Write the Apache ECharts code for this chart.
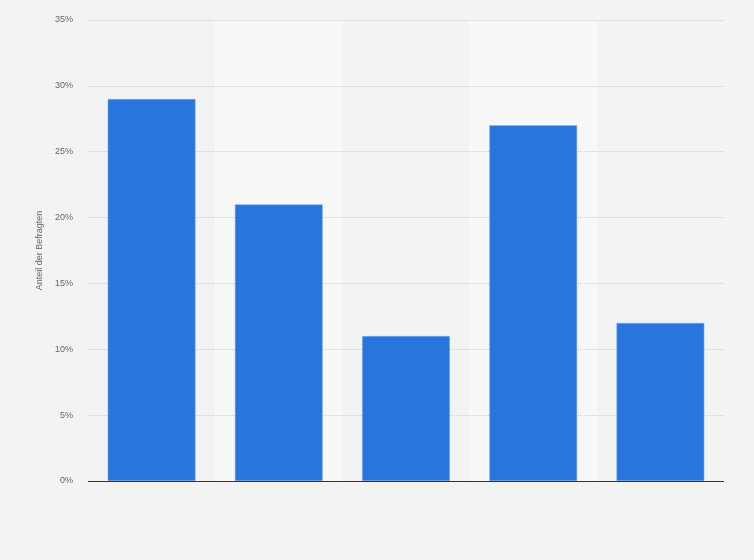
<!DOCTYPE html>
<html><head><meta charset="utf-8">
<script src="https://cdn.jsdelivr.net/npm/echarts@6/dist/echarts.min.js"></script>
<style>html,body{margin:0;padding:0;background:#f3f3f3}#c{width:754px;height:560px}</style>
</head><body><div id="c"></div>
<script>
const categories = ['A', 'B', 'C', 'D', 'E'];
const values = [29, 21, 11, 27, 12];
const yTicks = { min: 0, max: 35, interval: 5 };
const yName = 'Anteil der Befragten';

const chart = echarts.init(document.getElementById('c'), null, {renderer: 'canvas'});
chart.setOption({
  backgroundColor: '#f3f3f3',
  animation: false,
  grid: { left: 88, right: 30, top: 20, bottom: 79 },
  xAxis: {
    type: 'category', data: categories, z: 0,
    axisLine: { show: false },
    axisTick: { show: false },
    axisLabel: { show: false },
    splitArea: { show: true, areaStyle: { color: ['rgba(0,0,0,0)', '#f8f8f8'] } }
  },
  yAxis: {
    type: 'value', min: yTicks.min, max: yTicks.max, interval: yTicks.interval, z: 1,
    name: yName, nameLocation: 'middle', nameGap: 44, nameRotate: 90,
    nameTextStyle: { color: '#666', fontSize: 9, fontFamily: 'Arial, Liberation Sans, sans-serif' },
    axisLine: { show: false }, axisTick: { show: false },
    axisLabel: { formatter: '{value}%', color: '#666', fontSize: 9, margin: 15, fontFamily: 'Arial, Liberation Sans, sans-serif' },
    splitLine: { showMinLine: false, lineStyle: { color: '#d0d0d0', type: [1, 1], width: 1 } }
  },
  series: [{
    type: 'bar', data: values, barWidth: '69%', z: 3,
    itemStyle: { color: '#2876dd', borderColor: '#7fb0ee', borderWidth: 0.5 },
    markLine: {
      silent: true, symbol: 'none', label: { show: false },
      lineStyle: { color: '#333', type: 'solid', width: 1 },
      data: [{ yAxis: 0 }]
    }
  }]
});
</script></body></html>
